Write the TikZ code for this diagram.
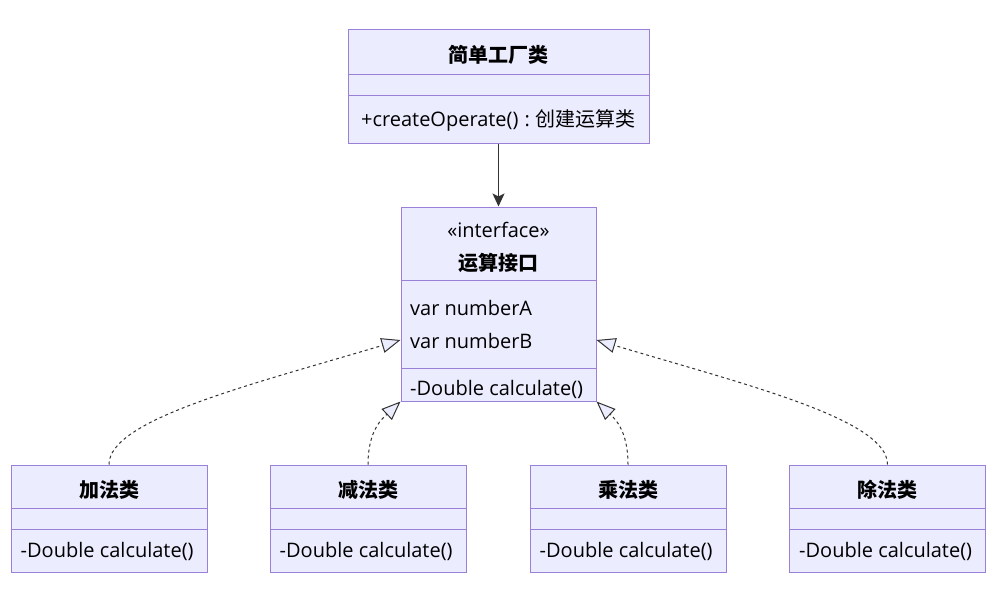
\documentclass[tikz,border=0pt]{standalone}
\usepackage{fontspec}
\setmainfont{Open Sans}
\newfontfamily\cjk{Noto Sans CJK SC}
\usetikzlibrary{arrows.meta,calc}
\definecolor{boxfill}{HTML}{ECECFF}
\definecolor{boxline}{HTML}{9A80D9}
\definecolor{edgecol}{HTML}{333333}
\tikzset{
  umlbox/.style={draw=boxline, fill=boxfill, line width=1pt, inner sep=0pt},
  divider/.style={draw=boxline, line width=1pt},
  txt/.style={inner sep=0pt, font=\fontsize{20}{23}\selectfont, text=black},
  ttl/.style={txt, font=\fontsize{20}{23}\selectfont\cjk\bfseries},
  lefttxt/.style={txt, anchor=west},
  realize/.style={draw=edgecol, line width=1pt, dashed, dash pattern=on 3pt off 3pt,
    -{Triangle[open, fill=boxfill, length=19pt, width=15pt, line width=1pt]}},
  assoc/.style={draw=edgecol, line width=1.2pt, -{Stealth[length=13pt, width=12pt, inset=3pt]}},
}
\begin{document}
\begin{tikzpicture}[x=1pt, y=-1pt]
\useasboundingbox (0,0) rectangle (1000,594);
\fill[white] (0,0) rectangle (1000,594);

% factory
\node[umlbox, minimum width=301pt, minimum height=113pt] (fac) at (498.5,86.5) {};
\draw[divider] (348,74) -- (649,74);
\draw[divider] (348,95) -- (649,95);
\node[ttl] (facT) at (498.5,55) {简单工厂类};
\node[txt] (facM) at (498.5,120) {+createOperate()\hspace{6pt}:\hspace{6pt}{\cjk 创建运算类}};

% interface
\node[umlbox, minimum width=195pt, minimum height=194pt] (iface) at (498.5,304) {};
\draw[divider] (401,280) -- (596,280);
\draw[divider] (401,368) -- (596,368);
\node[txt] (ifS) at (498.5,230) {«interface»};
\node[ttl] (ifT) at (498.5,263) {运算接口};
\node[lefttxt] (ifA) at (410,308) {var numberA};
\node[lefttxt] (ifB) at (410,341) {var numberB};
\node[lefttxt] (ifM) at (410,389) {-Double calculate()};

% subclasses
\foreach \nm/\cx/\lbl in {jia/109/加法类, jian/368/减法类, cheng/628/乘法类, chu/887.5/除法类}{
  \node[umlbox, minimum width=196pt, minimum height=107pt] (\nm) at (\cx,518.5) {};
  \draw[divider] ($(\nm.north west)+(0,44)$) -- ($(\nm.north east)+(0,44)$);
  \draw[divider] ($(\nm.north west)+(0,65)$) -- ($(\nm.north east)+(0,65)$);
  \node[ttl] (\nm T) at (\cx,490) {\lbl};
  \node[lefttxt] (\nm M) at ($(\nm.north west)+(10,87)$) {-Double calculate()};
}

% connectors
\draw[assoc] (fac.south) -- (iface.north);
\draw[realize] (jia.north) .. controls ($(jia.north)+(0,-45)$) and (250,385) .. ([yshift=-36pt]iface.west);
\draw[realize] (jian.north) .. controls ($(jian.north)+(0,-35)$) and (383,418) .. (iface.south west);
\draw[realize] (cheng.north) .. controls ($(cheng.north)+(0,-35)$) and (614,418) .. (iface.south east);
\draw[realize] (chu.north) .. controls ($(chu.north)+(0,-45)$) and (747,385) .. ([yshift=-36pt]iface.east);
\end{tikzpicture}
\end{document}
